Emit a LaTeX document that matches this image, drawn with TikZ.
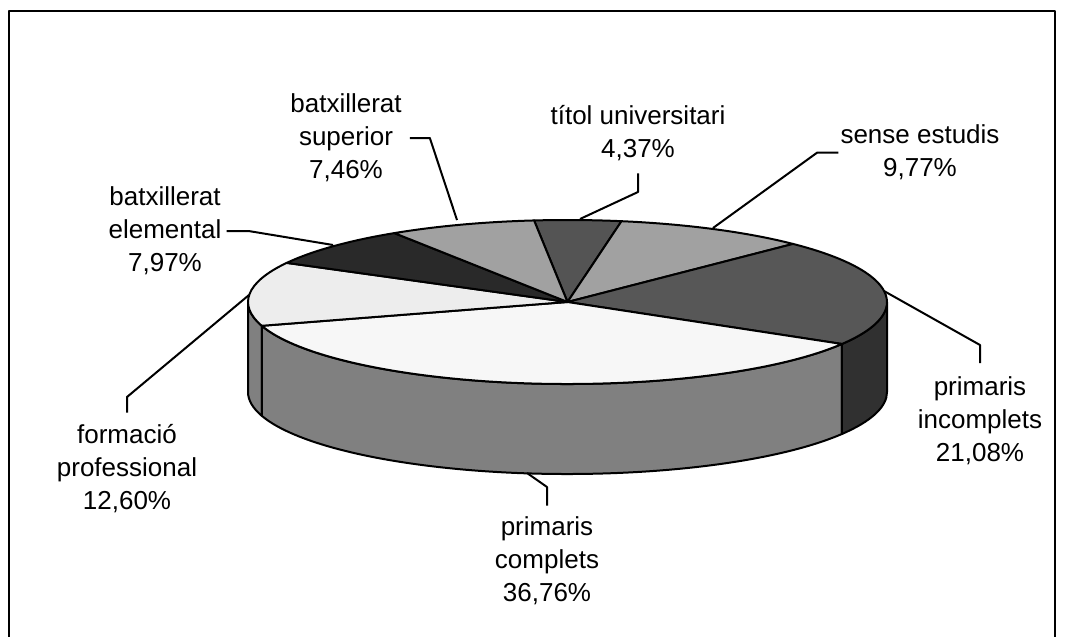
\documentclass[tikz,border=0pt]{standalone}
\usepackage{fontspec}
\setmainfont{Liberation Sans}
\usetikzlibrary{positioning}

\begin{document}
\begin{tikzpicture}[
  x=1pt, y=1pt, line join=round,
  wedge/.style={draw, line width=2pt},
  leader/.style={draw, line width=2pt},
  lbl/.style={align=center, inner sep=0pt, font=\fontsize{26}{33}\selectfont}
]
  \useasboundingbox (0,0) rectangle (1066,-637);
  \draw[line width=2pt] (9,-637) -- (9,-11) -- (1055,-11) -- (1055,-637);

  \coordinate (c) at (567.5,-302);

  % side of the pie
  \foreach \a/\b/\col in {180/196.872/black!50, 196.872/329.208/black!50, 329.208/360/black!81}
  \filldraw[wedge, fill=\col] (c) ++(\a:319.5pt and 82pt)
    arc[start angle=\a, end angle=\b, x radius=319.5pt, y radius=82pt] -- ++(0,-90)
    arc[start angle=\b, end angle=\a, x radius=319.5pt, y radius=82pt] -- cycle;

  % top of the pie
  \foreach \a/\b/\col in {96/80.268/black!67, 80.268/45.096/black!37, 45.096/-30.792/black!66,
    -30.792/-163.128/black!3, -163.128/-208.488/black!7, -208.488/-237.18/black!84, -237.18/-264/black!37}
  \filldraw[wedge, fill=\col] (c) -- ++(\a:319.5pt and 82pt)
    arc[start angle=\a, end angle=\b, x radius=319.5pt, y radius=82pt] -- cycle;

  % labels
  \node[lbl] (ltit) at (638,-133) {títol universitari\\4,37\%};
  \node[lbl] (lsen) at (920,-152.5) {sense estudis\\9,77\%};
  \node[lbl] (linc) at (980,-420.5) {primaris\\incomplets\\21,08\%};
  \node[lbl] (lcom) at (547,-561) {primaris\\complets\\36,76\%};
  \node[lbl] (lfor) at (127,-469) {formació\\professional\\12,60\%};
  \node[lbl] (lele) at (165,-231) {batxillerat\\elemental\\7,97\%};
  \node[lbl] (lsup) at (346,-138) {batxillerat\\superior\\7,46\%};

  % leader ends on the pie
  \coordinate (tit-pt) at (580,-219);
  \coordinate (sen-pt) at (713,-228);
  \coordinate (inc-pt) at (884,-291);
  \coordinate (com-pt) at (527,-473);
  \coordinate (for-pt) at (249,-295);
  \coordinate (ele-pt) at (333,-245);
  \coordinate (sup-pt) at (457,-220);

  \draw[leader, shorten <=12.5pt] (ltit.south) -- (ltit.south |- 0,-192) -- (tit-pt);
  \draw[leader, shorten <=2pt] (lsen.west) -- ++(-23,0) -- (sen-pt);
  \draw[leader, shorten <=13pt] (linc.north) -- (linc.north |- 0,-345) -- (inc-pt);
  \draw[leader, shorten <=11pt] (lcom.north) -- (lcom.north |- 0,-487) -- (com-pt);
  \draw[leader, shorten <=12pt] (lfor.north) -- (lfor.north |- 0,-397) -- (for-pt);
  \draw[leader, shorten <=5pt] (lele.east) -- ++(27,0) -- (ele-pt);
  \draw[leader, shorten <=8pt] (lsup.east) -- ++(28,0) -- (sup-pt);
\end{tikzpicture}
\end{document}
